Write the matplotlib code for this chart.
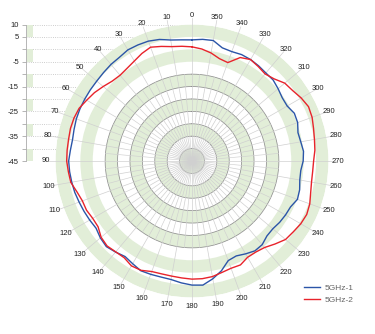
import matplotlib
matplotlib.use("Agg")
import matplotlib.pyplot as plt
import numpy as np

plt.rcParams["font.family"] = ["Liberation Sans", "DejaVu Sans"]

# measured gain (dB) every 5 degrees, 0..355
angles = list(range(0, 360, 5))
gain_5g1 = [3.8, 4.0, 4.5, 5.7, 6.4, 6.6, 6.7, 6.0, 5.8, 5.4, 5.1, 5.0,
            4.9, 4.8, 4.6, 4.2, 3.9, 4.2, 4.7, 4.5, 4.2, 3.9, 3.4, 3.0,
            2.6, 2.2, 3.2, 3.8, 2.9, 2.0, 2.8, 3.8, 3.6, 3.4, 3.5, 4.3,
            5.0, 5.2, 3.2, 0.8, -2.3, -2.8, -1.8, -0.8, -1.0, -2.3, -2.5, -1.9,
            -1.5, -1.2, 0.2, -0.1, -0.9, -1.0, -0.2, 0.1, -0.5, -0.8, 0.3, 0.5,
            -0.7, -0.6, 0.3, 1.2, 1.3, 1.8, 2.2, 2.3, 1.9, 2.2, 4.3, 4.2]
gain_5g2 = [1.0, 1.4, 1.8, 2.8, 3.8, 2.8, 1.5, 0.6, 0.1, 0.5, 1.7, 3.0,
            4.0, 5.2, 5.6, 5.7, 5.5, 5.5, 5.5, 5.0, 4.6, 3.0, 2.0, 1.9,
            1.2, 1.2, 2.8, 3.4, 2.8, 2.6, 3.8, 3.6, 2.4, 2.1, 2.1, 2.3,
            2.6, 2.6, 2.3, 1.5, 1.0, 1.2, -0.2, -0.2, 0.5, 2.3, 4.2, 4.8,
            5.6, 6.0, 5.5, 4.5, 3.9, 3.8, 4.0, 4.7, 5.1, 5.7, 6.5, 6.8,
            5.8, 4.5, 3.8, 1.8, 0.8, 1.5, 2.2, 1.0, -2.8, -2.3, -0.8, 0.3]
series_names = ["5GHz-1", "5GHz-2"]
series_colors = ["#2b55a8", "#e8232b"]

db_min, db_max = -45, 10
db_ticks = list(range(10, -50, -5))
db_labels = ["10", "5", "", "-5", "", "-15", "", "-25", "", "-35", "", "-45"]
angle_labels = list(range(0, 360, 10))

GREEN = "#e2eed8"
W, H = 375, 334
cx, cy, R = 192, 161, 136.5

fig = plt.figure(figsize=(W / 100, H / 100), dpi=100)

# left dB scale
ax_l = fig.add_axes([26 / W, (H - cy) / H, (185 - 26) / W, R / H])
ax_l.set_ylim(db_min, db_max)
ax_l.set_xlim(0, 185 - 26)
ax_l.set_yticks(db_ticks)
ax_l.set_yticklabels(db_labels)
ax_l.tick_params(axis="y", labelsize=5.5, length=3, width=0.5, pad=2,
                 color="#999999", labelcolor="#222222")
ax_l.set_xticks([])
for side in ["top", "right", "bottom"]:
    ax_l.spines[side].set_visible(False)
ax_l.spines["left"].set_color("#aaaaaa")
ax_l.spines["left"].set_linewidth(0.6)
ax_l.yaxis.grid(True, linestyle=":", color="#bdbdbd", linewidth=0.6)
for top in range(db_max, db_min, -10):
    ax_l.barh(top - 2.5, 6, height=5, left=0.5, color=GREEN, zorder=2)
ax_l.patch.set_visible(False)

# polar pattern
ax = fig.add_axes([(cx - R) / W, (H - cy - R) / H, 2 * R / W, 2 * R / H],
                  projection="polar")
ax.set_theta_zero_location("N")
ax.set_theta_direction(1)
rmax = db_max - db_min
ax.set_ylim(0, rmax)
ax.set_xticks([])
ax.set_yticks([])
ax.grid(False)
ax.spines["polar"].set_visible(False)

for r0 in range(0, rmax, 10):
    ax.bar(0, 5, width=2 * np.pi, bottom=r0, color=GREEN, linewidth=0, zorder=0)

full = np.linspace(0, 2 * np.pi, 361)
for r in range(5, 40, 5):
    ax.plot(full, np.full_like(full, r), color="#8f8f8f", lw=0.55, zorder=1)

for a in range(0, 360, 5):
    t = np.deg2rad(a)
    if a % 10 == 0:
        ax.plot([t, t], [0, 57.5], color="#d0d0d0", lw=0.5, zorder=1, clip_on=False)
    else:
        ax.plot([t, t], [0, 35], color="#d0d0d0", lw=0.45, zorder=1)

for a in angle_labels:
    ax.text(np.deg2rad(a), 58.8, str(a), ha="center", va="center", fontsize=5.5,
            color="#222222", clip_on=False)

theta = np.deg2rad(angles + [angles[0]])
for name, vals, col in zip(series_names, [gain_5g1, gain_5g2], series_colors):
    r = np.array(vals + [vals[0]]) - db_min
    ax.plot(theta, r, color=col, lw=1.0, label=name, zorder=3)

fig.legend(loc="lower left", bbox_to_anchor=(300 / W, 26 / H), frameon=False,
           fontsize=6, handlelength=1.9, handletextpad=0.5, labelspacing=0.45,
           labelcolor="#666666", borderpad=0)

fig.savefig("out.png", dpi=100)
